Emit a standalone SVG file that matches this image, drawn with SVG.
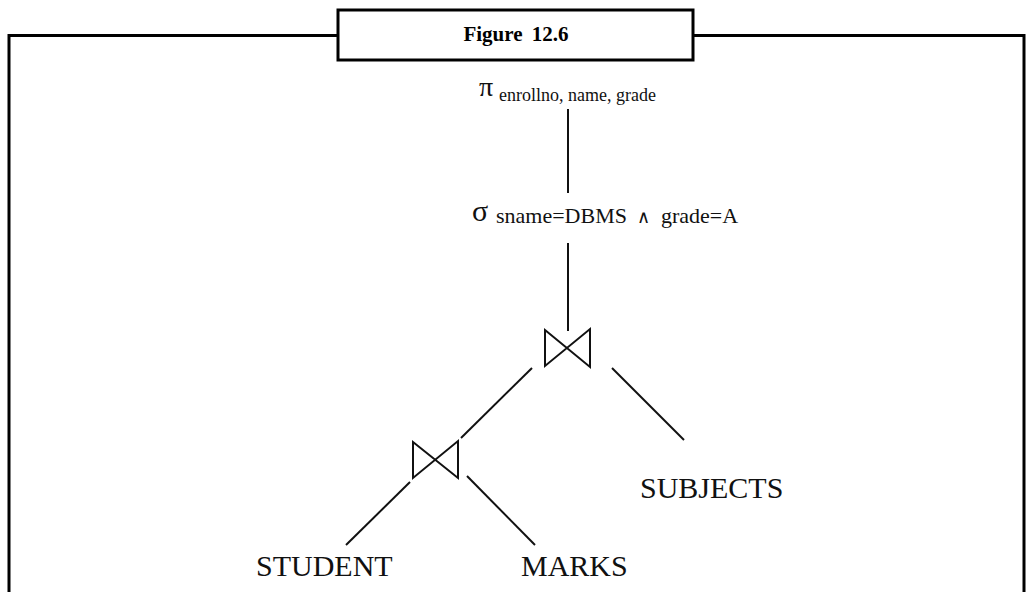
<svg xmlns="http://www.w3.org/2000/svg" width="1028" height="592" viewBox="0 0 1028 592">
<style>
.ln{stroke:#111;stroke-width:2;fill:none}
.frame{stroke:#000;stroke-width:3;fill:none}
.t{font-family:"Liberation Serif","Times New Roman",serif;fill:#111}
.title{font-family:"Liberation Serif","Times New Roman",serif;font-weight:bold;fill:#000}
</style>
<rect width="1028" height="592" fill="#fff"/>
<g id="frame">
<path class="frame" d="M9,600 V35.5 H1024 V600"/>
</g>
<g id="title">
<rect x="338" y="10" width="355" height="50" fill="#fff" stroke="#000" stroke-width="3"/>
<text class="title" x="516" y="41" font-size="21" text-anchor="middle" word-spacing="4">Figure 12.6</text>
</g>
<g id="connectors">
<line class="ln" x1="568" y1="109" x2="568" y2="193"/>
<line class="ln" x1="568" y1="243" x2="568" y2="331"/>
<line class="ln" x1="532" y1="368" x2="461" y2="438"/>
<line class="ln" x1="612" y1="368" x2="684" y2="440"/>
<line class="ln" x1="410" y1="482" x2="346" y2="545"/>
<line class="ln" x1="467" y1="476" x2="535" y2="545"/>
</g>
<g id="project">
<text class="t" x="479" y="96" font-size="28">π</text>
<text class="t" x="499" y="101" font-size="18">enrollno, name, grade</text>
</g>
<g id="select">
<text class="t" x="472" y="221" font-size="30">σ</text>
<text class="t" x="496" y="223" font-size="22" word-spacing="5">sname=DBMS <tspan font-size="18">∧</tspan> grade=A</text>
</g>
<g id="join1">
<path class="ln" d="M545,330 L590,367 L590,329 L545,366 Z"/>
</g>
<g id="join2">
<path class="ln" d="M413,442 L458,478 L458,441 L413,478 Z"/>
</g>
<g id="student"><text class="t" x="256" y="576" font-size="30">STUDENT</text></g>
<g id="marks"><text class="t" x="521" y="576" font-size="30">MARKS</text></g>
<g id="subjects"><text class="t" x="640" y="498" font-size="30">SUBJECTS</text></g>
</svg>
